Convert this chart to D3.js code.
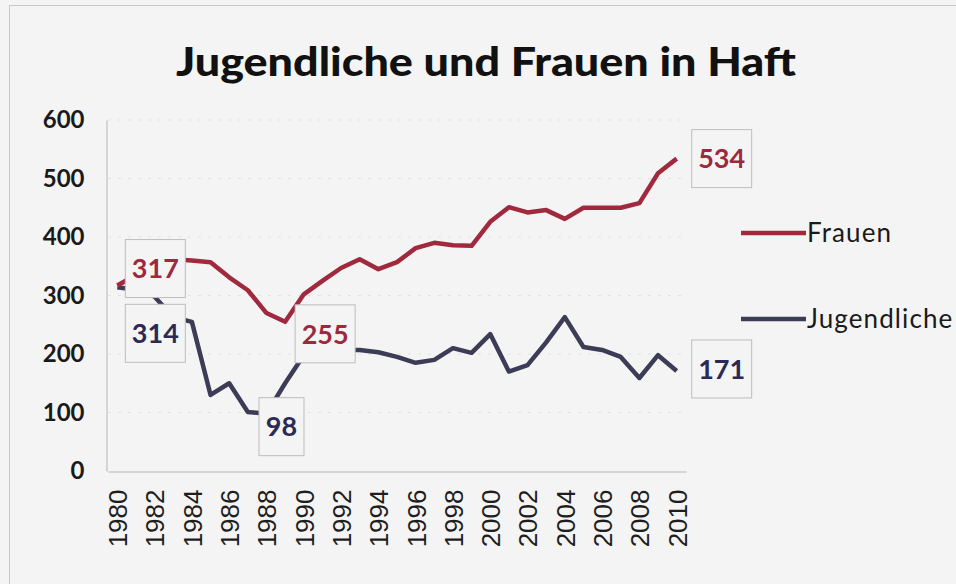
<!DOCTYPE html>
<html lang="de">
<head>
  <meta charset="utf-8">
  <title>Jugendliche und Frauen in Haft</title>
  <script src="https://d3js.org/d3.v7.min.js"></script>
  <style>
    body { margin: 0; background: #f4f4f4; }
    svg { display: block; }
  </style>
</head>
<body>
<script>
  // data
  var years = d3.range(1980, 2011);
  var frauen = [317, 335, 350, 362, 360, 357, 331, 309, 270, 255, 302, 325, 347, 362, 345, 357,
                381, 390, 386, 385, 426, 451, 442, 446, 431, 450, 450, 450, 458, 509, 534];
  var jugend = [314, 310, 298, 263, 255, 130, 150, 101, 98, 150, 198, 205, 207, 207, 203, 195,
                185, 190, 210, 202, 234, 170, 181, 220, 263, 212, 207, 195, 159, 198, 171];
  var yTicks = [0, 100, 200, 300, 400, 500, 600];
  var xLabels = d3.range(1980, 2011, 2);
  var seriesNames = ["Frauen", "Jugendliche"];

  var width = 956, height = 584;
  var red = "#a0293d", navy = "#3c3c56";
  var redText = "#9c2a3f", navyText = "#2a2a54";

  var x = d3.scalePoint().domain(years).range([108, 686]).padding(0.5);
  var y = d3.scaleLinear().domain([0, 600]).range([471, 120]);

  var svg = d3.select("body").append("svg")
      .attr("width", width)
      .attr("height", height);

  svg.append("rect")
      .attr("x", 0).attr("y", 0)
      .attr("width", width).attr("height", height)
      .attr("fill", "#f4f4f4");

  // chart frame (runs off the picture at right and bottom)
  svg.append("rect")
      .attr("x", 9.5).attr("y", 5.5)
      .attr("width", 1000).attr("height", 1000)
      .attr("fill", "none")
      .attr("stroke", "#c9c9c9");

  svg.append("text")
      .attr("x", 486).attr("y", 76)
      .attr("text-anchor", "middle")
      .attr("textLength", 620)
      .attr("lengthAdjust", "spacingAndGlyphs")
      .style("font-family", "Lato, 'Open Sans', sans-serif")
      .style("font-weight", "900")
      .style("font-size", "39px")
      .attr("fill", "#111")
      .text("Jugendliche und Frauen in Haft");

  // faint gridlines
  svg.append("g")
      .selectAll("line")
      .data(yTicks.filter(function(d) { return d > 0; }))
      .enter().append("line")
      .attr("x1", 108).attr("x2", 686)
      .attr("y1", function(d) { return y(d); })
      .attr("y2", function(d) { return y(d); })
      .attr("stroke", "#e2e2e2")
      .attr("stroke-dasharray", "3,7");

  var yAxis = svg.append("g")
      .attr("transform", "translate(106.5,0)")
      .call(d3.axisLeft(y).tickValues(yTicks).tickSize(0).tickPadding(22));
  yAxis.select(".domain").attr("stroke", "#b5b5b5");
  yAxis.selectAll("text")
      .style("font-family", "Lato, sans-serif")
      .style("font-weight", "bold")
      .style("font-size", "24px")
      .attr("fill", "#1a1a1a");

  var xAxis = svg.append("g")
      .attr("transform", "translate(0,471.5)")
      .call(d3.axisBottom(x).tickValues(xLabels).tickSize(0));
  xAxis.select(".domain").attr("stroke", "#b5b5b5");
  xAxis.selectAll("text")
      .attr("transform", "rotate(-90)")
      .attr("x", -18).attr("y", 0).attr("dy", "0.36em")
      .attr("text-anchor", "end")
      .style("font-family", "'Liberation Sans', Arial, sans-serif")
      .style("font-size", "26px")
      .attr("fill", "#1e1e1e");

  var line = d3.line()
      .x(function(d) { return x(d.year); })
      .y(function(d) { return y(d.value); });

  function pts(vals) {
    return years.map(function(yr, i) { return { year: yr, value: vals[i] }; });
  }

  svg.append("path")
      .datum(pts(jugend))
      .attr("d", line)
      .attr("fill", "none")
      .attr("stroke", navy)
      .attr("stroke-width", 4.5)
      .attr("stroke-linejoin", "round");

  svg.append("path")
      .datum(pts(frauen))
      .attr("d", line)
      .attr("fill", "none")
      .attr("stroke", red)
      .attr("stroke-width", 4.5)
      .attr("stroke-linejoin", "round");

  // data labels in boxes, offset from their points
  var labels = [
    { year: 1980, value: frauen[0], color: redText, dx: 38, dy: -17 },
    { year: 1980, value: jugend[0], color: navyText, dx: 38, dy: 46 },
    { year: 1988, value: jugend[8], color: navyText, dx: 15, dy: 13 },
    { year: 1989, value: frauen[9], color: redText, dx: 40, dy: 12 },
    { year: 2010, value: frauen[30], color: redText, dx: 45, dy: 0 },
    { year: 2010, value: jugend[30], color: navyText, dx: 45, dy: -2 }
  ];

  var lab = svg.append("g").selectAll("g")
      .data(labels)
      .enter().append("g")
      .attr("transform", function(d) {
        return "translate(" + (x(d.year) + d.dx) + "," + (y(d.value) + d.dy) + ")";
      });

  lab.append("rect")
      .attr("x", function(d) { return String(d.value).length > 2 ? -30 : -22.5; })
      .attr("y", -29)
      .attr("width", function(d) { return String(d.value).length > 2 ? 60 : 45; })
      .attr("height", 58)
      .attr("fill", "#f4f4f4")
      .attr("stroke", "#bdbdbd");

  lab.append("text")
      .attr("text-anchor", "middle")
      .attr("dy", "0.36em")
      .style("font-family", "Lato, sans-serif")
      .style("font-weight", "bold")
      .style("font-size", "27px")
      .attr("fill", function(d) { return d.color; })
      .text(function(d) { return d.value; });

  // legend
  var legend = svg.append("g").selectAll("g")
      .data(seriesNames)
      .enter().append("g")
      .attr("transform", function(d, i) { return "translate(741," + (233 + i * 86) + ")"; });

  legend.append("line")
      .attr("x1", 0).attr("x2", 65)
      .attr("stroke", function(d, i) { return i === 0 ? red : navy; })
      .attr("stroke-width", 4.5);

  legend.append("text")
      .attr("x", 66).attr("dy", "0.36em")
      .style("font-family", "Lato, sans-serif")
      .style("font-size", "26px")
      .style("letter-spacing", "1.1px")
      .attr("fill", "#1a1a1a")
      .text(function(d) { return d; });
</script>
</body>
</html>
